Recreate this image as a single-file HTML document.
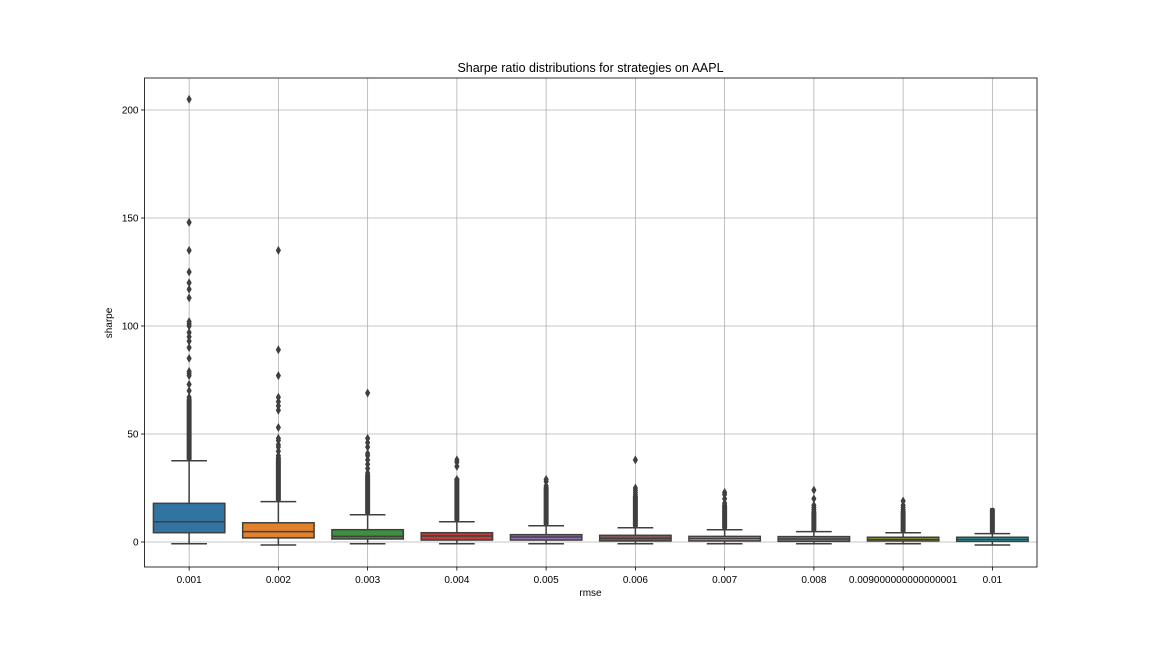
<!DOCTYPE html>
<html><head><meta charset="utf-8"><style>
body{margin:0;background:#fff;font-family:"Liberation Sans","DejaVu Sans",sans-serif}
svg text{font-family:"Liberation Sans","DejaVu Sans",sans-serif;fill:#000}
</style></head><body>
<svg id="chart" width="1152" height="648" viewBox="0 0 1152 648" xmlns="http://www.w3.org/2000/svg">
<rect width="1152" height="648" fill="#fff"/>
<g id="grid"></g><g id="boxes"></g><g id="axes"></g>
<text x="590.5" y="72" font-size="12.5" text-anchor="middle">Sharpe ratio distributions for strategies on AAPL</text>
<text x="590.5" y="596" font-size="10" text-anchor="middle">rmse</text>
<text transform="translate(112,323) rotate(-90)" font-size="10" text-anchor="middle">sharpe</text>
</svg>
<script>
const categories=["0.001","0.002","0.003","0.004","0.005","0.006","0.007","0.008","0.009000000000000001","0.01"];
const colors=["#3274a1","#e1812c","#3a923a","#c03d3e","#9372b2","#845b53","#d684bd","#7f7f7f","#a9aa35","#2eabb8"];
const q1=[4.3,1.9,1.4,0.9,0.9,0.5,0.5,0.3,0.5,0.3];
const median=[9.4,4.8,2.6,2.8,2.3,1.7,1.6,1.4,1.2,1.2];
const q3=[17.9,8.9,5.7,4.3,3.4,3.1,2.6,2.5,2.2,2.2];
const whiskerLow=[-0.8,-1.4,-0.8,-0.8,-0.8,-0.8,-0.8,-0.8,-0.8,-1.4];
const whiskerHigh=[37.6,18.7,12.6,9.4,7.5,6.6,5.7,4.8,4.3,3.9];
const denseTop=[65,38,30,28,24,20,16,13,13,14];
const outliers=[
[67,70,73,77,78,79,85,90,93,95,97,100,101,102,113,117,120,125,135,148,205],
[40,42,44,45,47,48,53,61,63,65,67,77,89,135],
[32,34,36,38,40,41,44,46,48,69],
[29,35,37,38],
[25,26,28,29],
[21,22,23,24,25,38],
[18,20,22,23],
[15,16,17,20,24],
[14,15,16,17,19],
[]];
const yTicks=[0,50,100,150,200];
const L=144.5,R=1037,T=78,B=567;
const y=v=>542-v*2.16;
const step=(R-L)/categories.length;
const x=i=>L+step*(i+0.5);
const NS="http://www.w3.org/2000/svg";
function mk(p,tag,a){const e=document.createElementNS(NS,tag);for(const k in a)e.setAttribute(k,a[k]);p.appendChild(e);return e;}
const grid=document.getElementById('grid'),boxes=document.getElementById('boxes'),axes=document.getElementById('axes');
yTicks.forEach(t=>{
 const g=mk(grid,'line',{x1:L,x2:R,y1:y(t),y2:y(t),stroke:'#b0b0b0','stroke-width':0.8});
 
 
 mk(axes,'line',{x1:L-3.5,x2:L,y1:y(t),y2:y(t),stroke:'#000','stroke-width':0.8});
 const tx=mk(axes,'text',{x:L-6,y:y(t)+3.5,'font-size':10,'text-anchor':'end'});tx.textContent=t;
 
 
});
categories.forEach((c,i)=>{
 const cx=x(i);
 const g=mk(grid,'line',{x1:cx,x2:cx,y1:T,y2:B,stroke:'#b0b0b0','stroke-width':0.8});
 
 
 mk(axes,'line',{x1:cx,x2:cx,y1:B,y2:B+3.5,stroke:'#000','stroke-width':0.8});
 const tx=mk(axes,'text',{x:cx,y:B+16,'font-size':10,'text-anchor':'middle'});tx.textContent=c;
 
 
 const grp=mk(boxes,'g',{});
 
 
 const hw=step*0.4, cw=hw*0.5, ec='#3f3f3f';
 mk(grp,'line',{x1:cx,x2:cx,y1:y(q3[i]),y2:y(whiskerHigh[i]),stroke:ec,'stroke-width':1.5});
 mk(grp,'line',{x1:cx,x2:cx,y1:y(q1[i]),y2:y(whiskerLow[i]),stroke:ec,'stroke-width':1.5});
 mk(grp,'line',{x1:cx-cw,x2:cx+cw,y1:y(whiskerHigh[i]),y2:y(whiskerHigh[i]),stroke:ec,'stroke-width':1.5});
 mk(grp,'line',{x1:cx-cw,x2:cx+cw,y1:y(whiskerLow[i]),y2:y(whiskerLow[i]),stroke:ec,'stroke-width':1.5});
 mk(grp,'rect',{x:cx-hw,y:y(q3[i]),width:2*hw,height:Math.max(1,y(q1[i])-y(q3[i])),fill:colors[i],stroke:ec,'stroke-width':1.5});
 mk(grp,'line',{x1:cx-hw,x2:cx+hw,y1:y(median[i]),y2:y(median[i]),stroke:ec,'stroke-width':1.5});
 // dense outlier streak
 mk(grp,'rect',{x:cx-2.5,y:y(denseTop[i])-4,width:5,height:y(whiskerHigh[i])-y(denseTop[i])+4,fill:ec,rx:2});
 outliers[i].forEach(v=>{
  const d=mk(grp,'path',{d:`M${cx} ${y(v)-4.5}L${cx+2.6} ${y(v)}L${cx} ${y(v)+4.5}L${cx-2.6} ${y(v)}Z`,fill:ec});
  
  
 });
});
const fr=mk(axes,'rect',{x:L,y:T,width:R-L,height:B-T,fill:'none',stroke:'#000','stroke-width':0.8});


</script>
</body></html>
